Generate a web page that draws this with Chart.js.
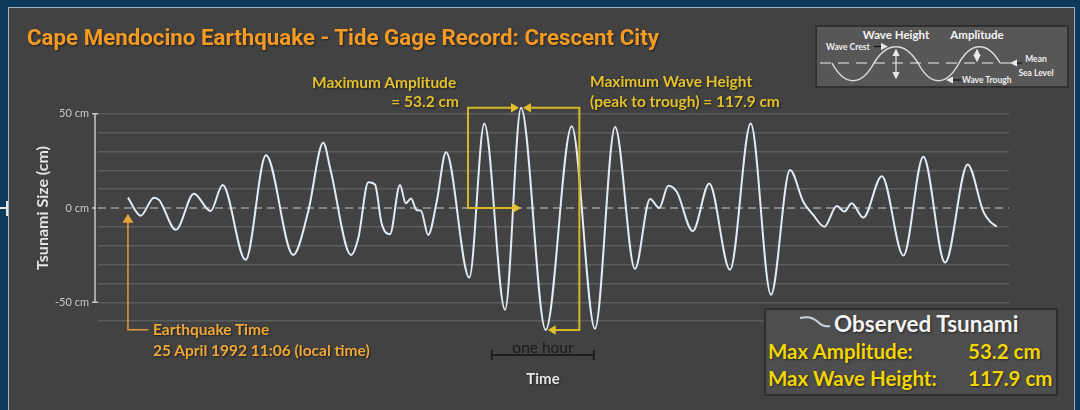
<!DOCTYPE html>
<html lang="en">
<head>
<meta charset="UTF-8">
<title>Cape Mendocino Earthquake - Tide Gage Record</title>
<script src="https://cdn.jsdelivr.net/npm/chart.js@4"></script>
<style>
  body { margin: 0; background: #0b3a5a; }
  #wrap { position: relative; width: 1080px; height: 410px; overflow: hidden; background: #0b3a5a; }
  #panel { position: absolute; left: 8px; top: 7px; width: 1067px; height: 420px; background: #424242; border: 1px solid #9fb3c3; box-sizing: border-box; }
  #mark { position: absolute; left: 0; top: 207px; width: 8px; height: 2px; background: #e8e8e8; }
  #mark2 { position: absolute; left: 6px; top: 201px; width: 2px; height: 15px; background: #e8e8e8; }
  canvas { position: absolute; left: 0; top: 0; }
  .txt { position: absolute; white-space: nowrap; transform: translateY(-50%); line-height: 1; font-family: Lato, sans-serif; font-weight: bold; text-shadow: 1px 1px 2px rgba(0,0,0,.55); }
  .ann { color: #e3c02c; font-size: 15.5px; }
  .eq { color: #f0a737; font-size: 15.5px; }
  #title { left: 27px; top: 37px; font-family: Roboto, sans-serif; font-size: 22.3px; color: #f59a23; }
  #legend { position: absolute; left: 764px; top: 308px; width: 294px; height: 88px; background: #4e4e4f; border: 2px solid #2e2e2e; box-sizing: border-box; }
  .leg { color: #f3d600; font-size: 20.5px; }
  #inset { position: absolute; left: 815px; top: 25px; }
</style>
</head>
<body>
<div id="wrap">
  <div id="panel"></div>
  <div id="mark"></div><div id="mark2"></div>
  <canvas id="tideChart" width="1080" height="410"></canvas>

  <div class="txt" id="title">Cape Mendocino Earthquake - Tide Gage Record: Crescent City</div>

  <div class="txt ann" style="left:312px; top:83px;">Maximum Amplitude</div>
  <div class="txt ann" style="right:621px; top:102px;">= 53.2 cm</div>
  <div class="txt ann" style="left:590px; top:82px;">Maximum Wave Height</div>
  <div class="txt ann" style="left:590px; top:102px;">(peak to trough) = 117.9 cm</div>

  <div class="txt eq" style="left:153px; top:330px;">Earthquake Time</div>
  <div class="txt eq" style="left:153px; top:351px;">25 April 1992 11:06 (local time)</div>

  <div class="txt" style="left:543px; top:348px; transform:translate(-50%,-50%); color:#1b1b1b; font-weight:normal; font-size:15.5px; text-shadow:none;">one hour</div>
  <div class="txt" style="left:543px; top:378px; transform:translate(-50%,-50%); color:#e6e6e6; font-size:15px;">Time</div>

  <div id="legend"></div>
  <svg style="position:absolute; left:798px; top:314px;" width="34" height="16">
    <path d="M2 4 C10 2, 16 4, 20 8 S28 13, 32 12" fill="none" stroke="#c9d3de" stroke-width="2"/>
  </svg>
  <div class="txt" style="left:834px; top:324px; color:#f4f4f4; font-size:22.5px;">Observed Tsunami</div>
  <div class="txt leg" style="left:768px; top:351px;">Max Amplitude:</div>
  <div class="txt leg" style="left:968px; top:351px;">53.2 cm</div>
  <div class="txt leg" style="left:768px; top:378px;">Max Wave Height:</div>
  <div class="txt leg" style="left:968px; top:378px;">117.9 cm</div>

  <svg id="inset" width="254" height="63" font-family="Lato, sans-serif" font-weight="bold">
    <defs>
      <marker id="ah" markerWidth="6" markerHeight="6" refX="5" refY="3" orient="auto">
        <path d="M0 0 L6 3 L0 6 z" fill="#e8e8e8"/>
      </marker>
    </defs>
    <rect x="1" y="1" width="252" height="61" fill="#575757" stroke="#303030" stroke-width="2"/>
    <line x1="5" y1="38" x2="196" y2="38" stroke="#bdbdbd" stroke-width="1.5" stroke-dasharray="11 7"/>
    <path d="M17 38 C29.6 61.6, 46.4 61.6, 59 38 C72.2 16.3, 89.8 16.3, 103 38 C115.3 61.6, 131.7 61.6, 144 38 C156.3 16.3, 172.7 16.3, 185 38" fill="none" stroke="#dcdcdc" stroke-width="1.5"/>
    <line x1="81" y1="30" x2="81" y2="25" stroke="#e8e8e8" stroke-width="1.2" marker-end="url(#ah)"/>
    <line x1="81" y1="30" x2="81" y2="53" stroke="#e8e8e8" stroke-width="1.2" marker-end="url(#ah)"/>
    <line x1="162" y1="30" x2="162" y2="25" stroke="#e8e8e8" stroke-width="1.2" marker-end="url(#ah)"/>
    <line x1="162" y1="30" x2="162" y2="36" stroke="#e8e8e8" stroke-width="1.2" marker-end="url(#ah)"/>
    <line x1="59" y1="21.5" x2="72" y2="21.5" stroke="#111" stroke-width="1.2" marker-end="url(#ah)"/>
    <line x1="146" y1="55" x2="132" y2="55" stroke="#111" stroke-width="1.2" marker-end="url(#ah)"/>
    <line x1="207" y1="38" x2="196" y2="38" stroke="#111" stroke-width="1.2" marker-end="url(#ah)"/>
    <text x="81" y="14" text-anchor="middle" font-size="11.5" fill="#f4f4f4">Wave Height</text>
    <text x="162" y="14" text-anchor="middle" font-size="11.5" fill="#f4f4f4">Amplitude</text>
    <text x="11" y="25" font-size="8.5" fill="#f0f0f0">Wave Crest</text>
    <text x="147" y="58" font-size="8.5" fill="#f0f0f0">Wave Trough</text>
    <text x="221" y="37" text-anchor="middle" font-size="8.5" fill="#f0f0f0">Mean</text>
    <text x="221" y="51" text-anchor="middle" font-size="8.5" fill="#f0f0f0">Sea Level</text>
  </svg>
</div>

<script>
// minutes after the earthquake (11:06 local time)
const minutes = [0, 7.5, 15.3, 18.4, 28.2, 38.8, 48.6, 55.7, 69.2, 81.2,
  97.2, 106, 114.9, 119.2, 131.2, 135.5, 141.4, 145.3, 149.2, 154.1,
  160, 163.4, 166.5, 169.8, 172.4, 176.6, 181.6, 187.1, 200.8, 209.6,
  221.8, 231.2, 245.7, 261, 274.7, 286.5, 298.2, 307.1, 312.5, 317.8,
  322.8, 332.2, 341.9, 354.1, 366.3, 378.2, 389.4, 397.2, 403.1, 409.6,
  416.9, 421.4, 425.7, 432.5, 443.4, 456.1, 467.8, 480.6, 493.9, 503.1,
  507.1, 511];

// water level relative to mean sea level, cm
const tsunamiCm = [5.5, -4.1, 5.5, 4.2, -11.6, 7.6, -1.6, 12.2, -27.5, 28,
  -24.9, -2, 34.6, 20, -24.9, -15.9, 13.6, 12.5, -8.1, -13.9,
  12.2, 2.5, 5.1, -1.1, -1.5, -14.3, 3.3, 29.5, -36.9, 44.8,
  -54, 53.2, -64.7, 43.4, -64, 43, -32.3, 4.8, 0, 11.8,
  8.6, -12.2, 13, -32.8, 44.8, -46, 20.1, 3.3, -3.7, -9.9,
  1.1, -1.9, 2.5, -5.1, 16.9, -25.2, 27.2, -28.9, 23.1, -1.9,
  -7.2, -9.9];

const yGridValues = [50, 40, 30, 20, 10, 0, -10, -20, -30, -40, -50, -60];
const yLabelValues = [50, 0, -50];
const yLabels = ['50 cm', '0 cm', '-50 cm'];

// annotation values
const maxAmplitude = 53.2;
const minTrough = -64.7;
const peakTime = 231.2;
const troughTime = 245.7;
const ampBoxStart = 200;
const heightBoxEnd = 265.5;
const hourBarStart = 214;

function arrowHead(ctx, x, y, dir, size) {
  // dir: 'right' | 'left' | 'up'
  ctx.beginPath();
  if (dir === 'right') { ctx.moveTo(x, y); ctx.lineTo(x - size, y - size * 0.6); ctx.lineTo(x - size, y + size * 0.6); }
  if (dir === 'left') { ctx.moveTo(x, y); ctx.lineTo(x + size, y - size * 0.6); ctx.lineTo(x + size, y + size * 0.6); }
  if (dir === 'up') { ctx.moveTo(x, y); ctx.lineTo(x - size * 0.6, y + size); ctx.lineTo(x + size * 0.6, y + size); }
  ctx.closePath();
  ctx.fill();
}

const decorations = {
  id: 'decorations',
  beforeDatasetsDraw(chart) {
    const { ctx, chartArea, scales: { x, y } } = chart;
    ctx.save();
    // mean sea level
    const y0 = y.getPixelForValue(0);
    ctx.strokeStyle = '#9c9c9c';
    ctx.lineWidth = 1.5;
    ctx.setLineDash([8, 5]);
    ctx.beginPath();
    ctx.moveTo(chartArea.left, y0);
    ctx.lineTo(chartArea.right, y0);
    ctx.stroke();
    ctx.setLineDash([]);

    // vertical axis with end caps
    const ax = chartArea.left - 3;
    const yTop = y.getPixelForValue(50), yBot = y.getPixelForValue(-50);
    ctx.strokeStyle = '#c8c8c8';
    ctx.lineWidth = 1.5;
    ctx.beginPath();
    ctx.moveTo(ax, yTop); ctx.lineTo(ax, yBot);
    ctx.moveTo(ax - 3, yTop); ctx.lineTo(ax + 3, yTop);
    ctx.moveTo(ax - 3, yBot); ctx.lineTo(ax + 3, yBot);
    ctx.moveTo(ax - 3, y0); ctx.lineTo(ax + 1, y0);
    ctx.stroke();
    ctx.restore();
  },
  afterDatasetsDraw(chart) {
    const { ctx, scales: { x, y } } = chart;
    ctx.save();
    const y0 = y.getPixelForValue(0);
    const yPeak = y.getPixelForValue(maxAmplitude);
    const yTrough = y.getPixelForValue(minTrough);
    const xPeak = x.getPixelForValue(peakTime);
    const xTrough = x.getPixelForValue(troughTime);
    const xL = x.getPixelForValue(ampBoxStart);
    const xR = x.getPixelForValue(heightBoxEnd);

    // yellow brackets
    ctx.strokeStyle = '#d8b726';
    ctx.fillStyle = '#e2c02a';
    ctx.lineWidth = 2;
    ctx.beginPath();
    ctx.moveTo(xPeak - 6, yPeak); ctx.lineTo(xL, yPeak); ctx.lineTo(xL, y0); ctx.lineTo(xPeak - 6, y0);
    ctx.moveTo(xPeak + 6, yPeak); ctx.lineTo(xR, yPeak); ctx.lineTo(xR, yTrough); ctx.lineTo(xTrough + 6, yTrough);
    ctx.stroke();
    arrowHead(ctx, xPeak - 2, yPeak, 'right', 8);
    arrowHead(ctx, xPeak, y0, 'right', 8);
    arrowHead(ctx, xPeak + 2, yPeak, 'left', 8);
    arrowHead(ctx, xTrough + 2, yTrough, 'left', 8);

    // earthquake time marker
    const xq = x.getPixelForValue(0);
    const yTip = y.getPixelForValue(-3);
    const yLow = y.getPixelForValue(-64.5);
    ctx.strokeStyle = '#de9a36';
    ctx.fillStyle = '#e6a23a';
    ctx.lineWidth = 1.5;
    ctx.beginPath();
    ctx.moveTo(xq, yTip + 6); ctx.lineTo(xq, yLow); ctx.lineTo(x.getPixelForValue(12), yLow);
    ctx.stroke();
    arrowHead(ctx, xq, yTip, 'up', 9);

    // one hour scale bar
    const yb = y.getPixelForValue(-78);
    const xa = x.getPixelForValue(hourBarStart), xb = x.getPixelForValue(hourBarStart + 60);
    ctx.strokeStyle = '#1e1e1e';
    ctx.lineWidth = 2;
    ctx.beginPath();
    ctx.moveTo(xa, yb); ctx.lineTo(xb, yb);
    ctx.moveTo(xa, yb - 5); ctx.lineTo(xa, yb + 5);
    ctx.moveTo(xb, yb - 5); ctx.lineTo(xb, yb + 5);
    ctx.stroke();
    ctx.restore();
  }
};

const ctx = document.getElementById('tideChart').getContext('2d');
new Chart(ctx, {
  type: 'line',
  data: {
    datasets: [{
      label: 'Observed Tsunami',
      data: minutes.map((m, i) => ({ x: m, y: tsunamiCm[i] })),
      borderColor: '#e3ebf4',
      borderWidth: 2,
      pointRadius: 0,
      cubicInterpolationMode: 'monotone',
      clip: false
    }]
  },
  options: {
    responsive: false,
    animation: false,
    layout: { padding: { left: 0, right: 71, top: 76, bottom: 70 } },
    plugins: { legend: { display: false }, tooltip: { enabled: false } },
    scales: {
      x: { type: 'linear', min: -17.6, max: 518.2, display: false },
      y: {
        position: 'left',
        min: -70,
        max: 70,
        afterFit: (s) => { s.width = 98; },
        afterBuildTicks: (s) => { s.ticks = yGridValues.map(v => ({ value: v })); },
        border: { display: false },
        grid: {
          drawTicks: false,
          lineWidth: 1.5,
          color: (c) => c.tick && c.tick.value === 0 ? 'rgba(0,0,0,0)' : '#5c5c5c'
        },
        ticks: {
          autoSkip: false,
          padding: 9,
          color: '#c9c9c9',
          font: { family: 'Lato', size: 11 },
          callback: (v) => {
            const i = yLabelValues.indexOf(v);
            return i >= 0 ? yLabels[i] : '';
          }
        },
        title: {
          display: true,
          text: 'Tsunami Size (cm)',
          color: '#e4e4e4',
          font: { family: 'Lato', size: 16, weight: 'bold' },
          padding: { top: 33 }
        }
      }
    }
  },
  plugins: [decorations]
});
</script>
</body>
</html>
